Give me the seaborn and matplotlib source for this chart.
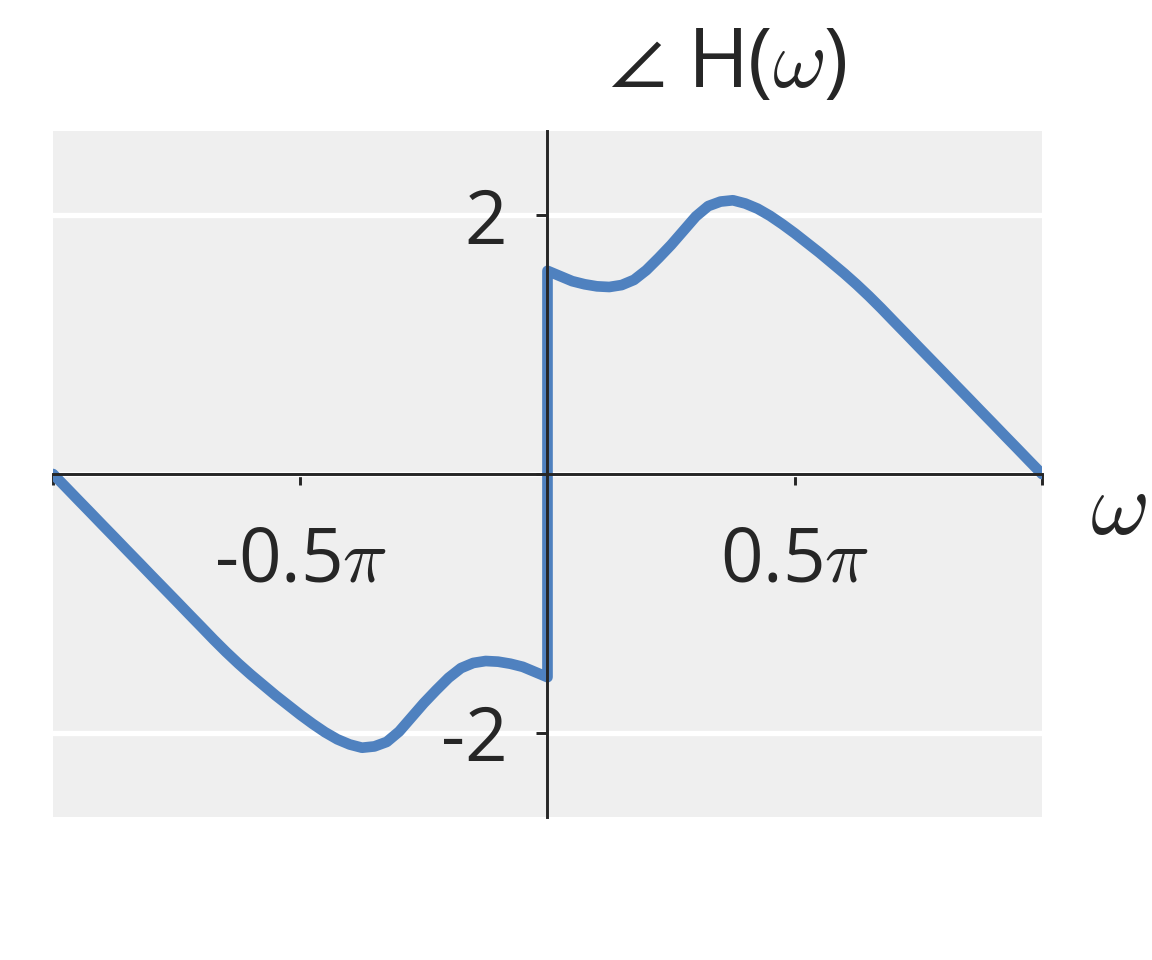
import numpy as np
import pandas as pd
import matplotlib
matplotlib.use("Agg")
import matplotlib.pyplot as plt
import seaborn as sns

# frequency in units of pi, phase in radians
w_neg = [-1.0, -0.975, -0.95, -0.925, -0.90, -0.875, -0.85, -0.825, -0.80,
         -0.775, -0.75, -0.725, -0.70, -0.675, -0.65, -0.625, -0.60, -0.575,
         -0.55, -0.525, -0.50, -0.475, -0.45, -0.425, -0.40, -0.375, -0.35,
         -0.325, -0.30, -0.275, -0.25, -0.225, -0.20, -0.175, -0.15, -0.125,
         -0.10, -0.075, -0.05, -0.025, 0.0]
phase_neg = [0.0, -0.098, -0.197, -0.295, -0.394, -0.492, -0.591, -0.689,
             -0.788, -0.886, -0.984, -1.083, -1.181, -1.28, -1.375, -1.465,
             -1.55, -1.63, -1.71, -1.785, -1.86, -1.93, -1.995, -2.05, -2.09,
             -2.115, -2.105, -2.07, -1.99, -1.88, -1.77, -1.67, -1.575, -1.50,
             -1.46, -1.445, -1.45, -1.466, -1.49, -1.53, -1.57]
w_pos = [0.0, 0.025, 0.05, 0.075, 0.10, 0.125, 0.15, 0.175, 0.20, 0.225, 0.25,
         0.275, 0.30, 0.325, 0.35, 0.375, 0.40, 0.425, 0.45, 0.475, 0.50,
         0.525, 0.55, 0.575, 0.60, 0.625, 0.65, 0.675, 0.70, 0.725, 0.75,
         0.775, 0.80, 0.825, 0.85, 0.875, 0.90, 0.925, 0.95, 0.975, 1.0]
phase_pos = [1.57, 1.53, 1.49, 1.466, 1.45, 1.445, 1.46, 1.50, 1.575, 1.67,
             1.77, 1.88, 1.99, 2.07, 2.105, 2.115, 2.09, 2.05, 1.995, 1.93,
             1.86, 1.785, 1.71, 1.63, 1.55, 1.465, 1.375, 1.28, 1.181, 1.083,
             0.984, 0.886, 0.788, 0.689, 0.591, 0.492, 0.394, 0.295, 0.197,
             0.098, 0.0]

xticks = [-1.0, -0.5, 0.0, 0.5, 1.0]
xtick_labels = ["", r"-0.5$\pi$", "", r"0.5$\pi$", ""]
yticks = [-2, 0, 2]
ytick_labels = ["-2", "", "2"]

df = pd.DataFrame({
    "w": np.pi * np.array(w_neg + w_pos),
    "phase": phase_neg + phase_pos,
})

sns.set_theme(style="whitegrid")
plt.rcParams["font.family"] = ["Open Sans", "DejaVu Sans"]
plt.rcParams["mathtext.fontset"] = "cm"

fig = plt.figure(figsize=(6, 5), dpi=192)
ax = fig.add_axes([0.046, 0.149, 0.8585, 0.7145])
ax.set_facecolor("#efefef")

sns.lineplot(data=df, x="w", y="phase", estimator=None, sort=False,
             color="#4f81bf", linewidth=4, ax=ax)

ax.set_xlim(-np.pi, np.pi)
ax.set_ylim(-2.65, 2.65)

ax.spines["left"].set_position(("data", 0))
ax.spines["bottom"].set_position(("data", 0))
ax.spines["top"].set_visible(False)
ax.spines["right"].set_visible(False)
for s in ["left", "bottom"]:
    ax.spines[s].set_color("#262626")
    ax.spines[s].set_linewidth(1.1)
    ax.spines[s].set_zorder(3)

ax.set_xticks(np.pi * np.array(xticks))
ax.set_xticklabels(xtick_labels)
ax.set_yticks(yticks)
ax.set_yticklabels(ytick_labels)
ax.tick_params(axis="x", direction="out", length=4, width=1.1, color="#262626",
               labelsize=28, labelcolor="#262626", pad=15, bottom=True)
ax.tick_params(axis="y", direction="out", length=4, width=1.1, color="#262626",
               labelsize=28, labelcolor="#262626", pad=11, left=True)

ax.grid(False)
ax.yaxis.grid(True, color="white", linewidth=2)
ax.set_axisbelow(True)

ax.set_xlabel(r"$\omega$", fontsize=34, color="#262626")
ax.xaxis.set_label_coords(1.077, 0.4475)
ax.xaxis.label.set_va("center")
ax.set_ylabel("")

fig.text(0.632, 0.932, r"$\angle$ H($\omega$)", fontsize=31, color="#262626",
         ha="center", va="center")

fig.savefig("out.png", dpi=192, facecolor="white")
